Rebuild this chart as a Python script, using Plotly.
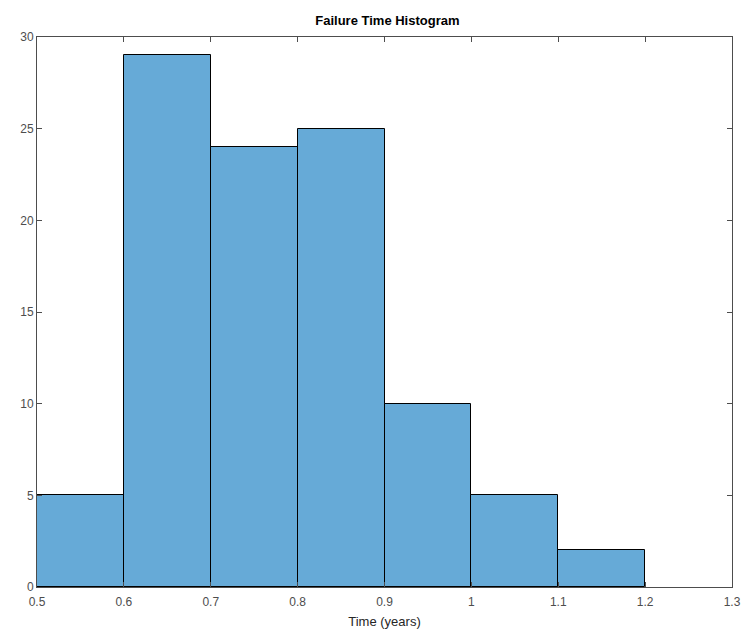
import plotly.graph_objects as go

# Histogram bins (years) and failure counts
bin_left = [0.5, 0.6, 0.7, 0.8, 0.9, 1.0, 1.1]
counts = [5, 29, 24, 25, 10, 5, 2]
bin_width = 0.1
x_ticks = [0.5, 0.6, 0.7, 0.8, 0.9, 1.0, 1.1, 1.2, 1.3]
x_tick_text = ["0.5", "0.6", "0.7", "0.8", "0.9", "1", "1.1", "1.2", "1.3"]
y_ticks = [0, 5, 10, 15, 20, 25, 30]

centers = [b + bin_width / 2 for b in bin_left]

fig = go.Figure(
    go.Bar(
        x=centers,
        y=counts,
        width=[bin_width] * len(counts),
        marker=dict(color="#66AAD7", line=dict(color="black", width=1)),
        hoverinfo="x+y",
    )
)

axis_common = dict(
    showline=True,
    linecolor="#4d4d4d",
    linewidth=1,
    mirror="ticks",
    ticks="inside",
    ticklen=5,
    tickcolor="#4d4d4d",
    showgrid=False,
    zeroline=False,
    automargin=False,
    tickfont=dict(family="Liberation Sans, Arial, sans-serif", size=12, color="#4d4d4d"),
)

fig.update_layout(
    width=745,
    height=632,
    margin=dict(l=37, r=13, t=37, b=45),
    paper_bgcolor="white",
    plot_bgcolor="white",
    showlegend=False,
    title=dict(
        text="<b>Failure Time Histogram</b>",
        x=0.52,
        xanchor="center",
        y=1 - 20 / 632,
        yanchor="middle",
        font=dict(family="Liberation Sans, Arial, sans-serif", size=13, color="black"),
    ),
    xaxis=dict(
        range=[0.5, 1.3],
        tickvals=x_ticks,
        ticktext=x_tick_text,
        ticklabelstandoff=4,
        title=dict(
            text="Time (years)",
            standoff=8,
            font=dict(family="Liberation Sans, Arial, sans-serif", size=13, color="#262626"),
        ),
        **axis_common,
    ),
    yaxis=dict(
        range=[0, 30],
        tickvals=y_ticks,
        **axis_common,
    ),
    bargap=0,
)

fig.write_html("out.html")
